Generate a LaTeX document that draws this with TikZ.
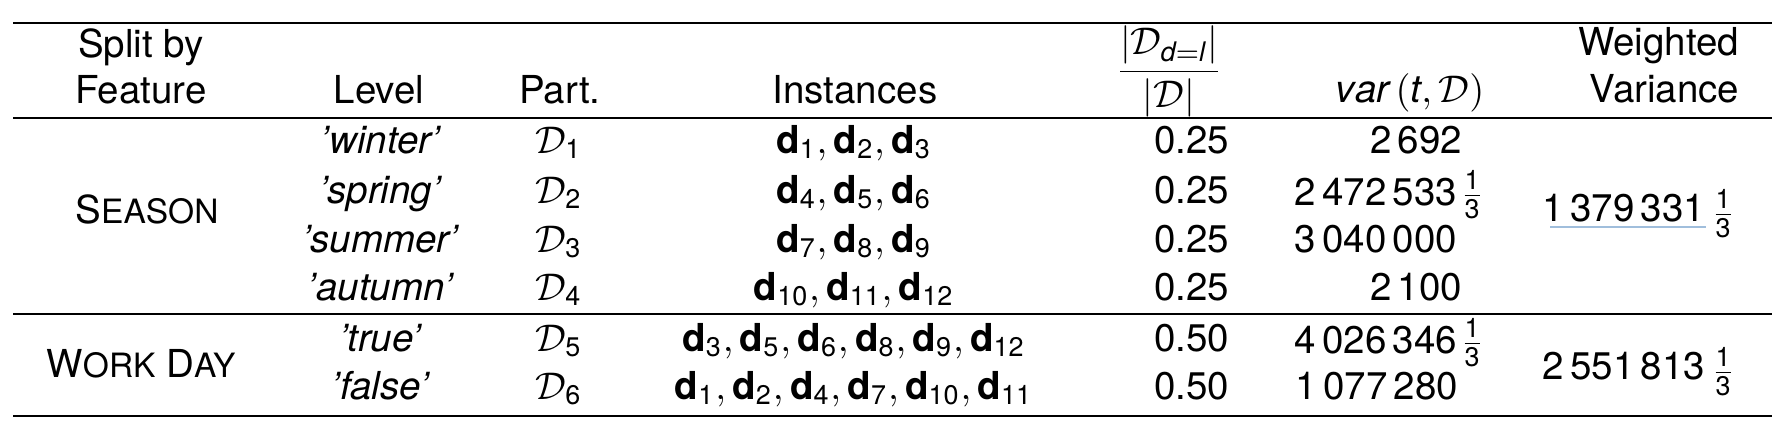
\documentclass[tikz,border=0pt]{standalone}
\usepackage{amsmath}
\usepackage{fontspec}
\setmainfont{TeX Gyre Heros}
\setsansfont{TeX Gyre Heros}
\usepackage{tikz}
\definecolor{LinkBlue}{RGB}{160,190,220}
\newcommand{\pd}[1]{$\mathcal{D}_{\text{#1}}$}
\newcommand{\bd}[1]{\mathbf{d}_{\text{#1}}}
\newcommand{\onethird}{$\frac{\text{1}}{\text{3}}$}
\newcommand{\fsc}[1]{{\fontsize{8.7pt}{10pt}\selectfont #1}}

\begin{document}
\begin{tikzpicture}[x=0.2597pt,y=0.2597pt,yscale=-1,xscale=1,
  cell/.style={inner sep=0pt,anchor=base},
  rcell/.style={inner sep=0pt,anchor=base east},
  thickrule/.style={line width=0.75pt},
  thinrule/.style={line width=0.55pt}]
\useasboundingbox (0,0) rectangle (1780,444);

%Straight Lines
\draw [thickrule] (13,23) -- (1772,23) ;
%Straight Lines
\draw [thinrule] (13,118) -- (1772,118) ;
%Straight Lines
\draw [thinrule] (13,314) -- (1772,314) ;
%Straight Lines
\draw [thickrule] (13,416) -- (1772,416) ;
%Straight Lines
\draw [color=LinkBlue, line width=0.3pt] (1550,227) -- (1706,227) ;

% Text Node
\node [cell] (hdSplit) at (141,57) {Split by};
% Text Node
\node [cell] (hdFeature) at (141,103) {Feature};
% Text Node
\node [cell] (hdLevel) at (379,103) {Level};
% Text Node
\node [cell] (hdPart) at (560,103) {Part.};
% Text Node
\node [cell] (hdInst) at (855,103) {Instances};
% Text Node
\node [cell] (hdRatio) at (1169,81) {$\displaystyle\frac{|\mathcal{D}_{\mathit{d}=\mathit{l}}|}{|\mathcal{D}|}$};
% Text Node
\node [rcell] (hdVar) at (1485,102) {$\mathit{var}\left(\mathit{t},\mathcal{D}\right)$};
% Text Node
\node [rcell] (hdWeighted) at (1740,55) {Weighted};
% Text Node
\node [rcell] (hdVariance) at (1740,102) {Variance};

% Text Node
\node [cell] (ftSeason) at (147,223) {S\fsc{EASON}};
% Text Node
\node [cell] (ftWorkDay) at (141,377) {W\fsc{ORK} D\fsc{AY}};

% Text Node
\node [cell] (lvWinter) at (381,153) {\textit{'winter'}};
% Text Node
\node [cell] (lvSpring) at (381,203) {\textit{'spring'}};
% Text Node
\node [cell] (lvSummer) at (381,252) {\textit{'summer'}};
% Text Node
\node [cell] (lvAutumn) at (381,300) {\textit{'autumn'}};
% Text Node
\node [cell] (lvTrue) at (381,351) {\textit{'true'}};
% Text Node
\node [cell] (lvFalse) at (381,399) {\textit{'false'}};

% Text Node
\node [cell] (ptOne) at (559,153) {\pd{1}};
% Text Node
\node [cell] (ptTwo) at (559,203) {\pd{2}};
% Text Node
\node [cell] (ptThree) at (559,252) {\pd{3}};
% Text Node
\node [cell] (ptFour) at (559,300) {\pd{4}};
% Text Node
\node [cell] (ptFive) at (559,351) {\pd{5}};
% Text Node
\node [cell] (ptSix) at (559,399) {\pd{6}};

% Text Node
\node [cell] (inOne) at (854,153) {$\bd{1},\bd{2},\bd{3}$};
% Text Node
\node [cell] (inTwo) at (854,203) {$\bd{4},\bd{5},\bd{6}$};
% Text Node
\node [cell] (inThree) at (854,252) {$\bd{7},\bd{8},\bd{9}$};
% Text Node
\node [cell] (inFour) at (854,300) {$\bd{10},\bd{11},\bd{12}$};
% Text Node
\node [cell] (inFive) at (854,351) {$\bd{3},\bd{5},\bd{6},\bd{8},\bd{9},\bd{12}$};
% Text Node
\node [cell] (inSix) at (854,399) {$\bd{1},\bd{2},\bd{4},\bd{7},\bd{10},\bd{11}$};

% Text Node
\node [rcell] (raOne) at (1230,153) {0.25};
% Text Node
\node [rcell] (raTwo) at (1230,203) {0.25};
% Text Node
\node [rcell] (raThree) at (1230,252) {0.25};
% Text Node
\node [rcell] (raFour) at (1230,300) {0.25};
% Text Node
\node [rcell] (raFive) at (1230,351) {0.50};
% Text Node
\node [rcell] (raSix) at (1230,399) {0.50};

% Text Node
\node [rcell] (vaOne) at (1463,153) {2\,692};
% Text Node
\node [rcell] (vaTwo) at (1458,205) {2\,472\,533};
\node [cell] (vaTwoFr) at (1472,205) {\onethird};
% Text Node
\node [rcell] (vaThree) at (1458,252) {3\,040\,000};
% Text Node
\node [rcell] (vaFour) at (1463,300) {2\,100};
% Text Node
\node [rcell] (vaFive) at (1458,353) {4\,026\,346};
\node [cell] (vaFiveFr) at (1472,353) {\onethird};
% Text Node
\node [rcell] (vaSix) at (1459,399) {1\,077\,280};

% Text Node
\node [rcell] (wvSeason) at (1706,221) {1\,379\,331};
\node [cell] (wvSeasonFr) at (1723,224) {\onethird};
% Text Node
\node [rcell] (wvWorkDay) at (1706,379) {2\,551\,813};
\node [cell] (wvWorkDayFr) at (1723,382) {\onethird};

\end{tikzpicture}
\end{document}
